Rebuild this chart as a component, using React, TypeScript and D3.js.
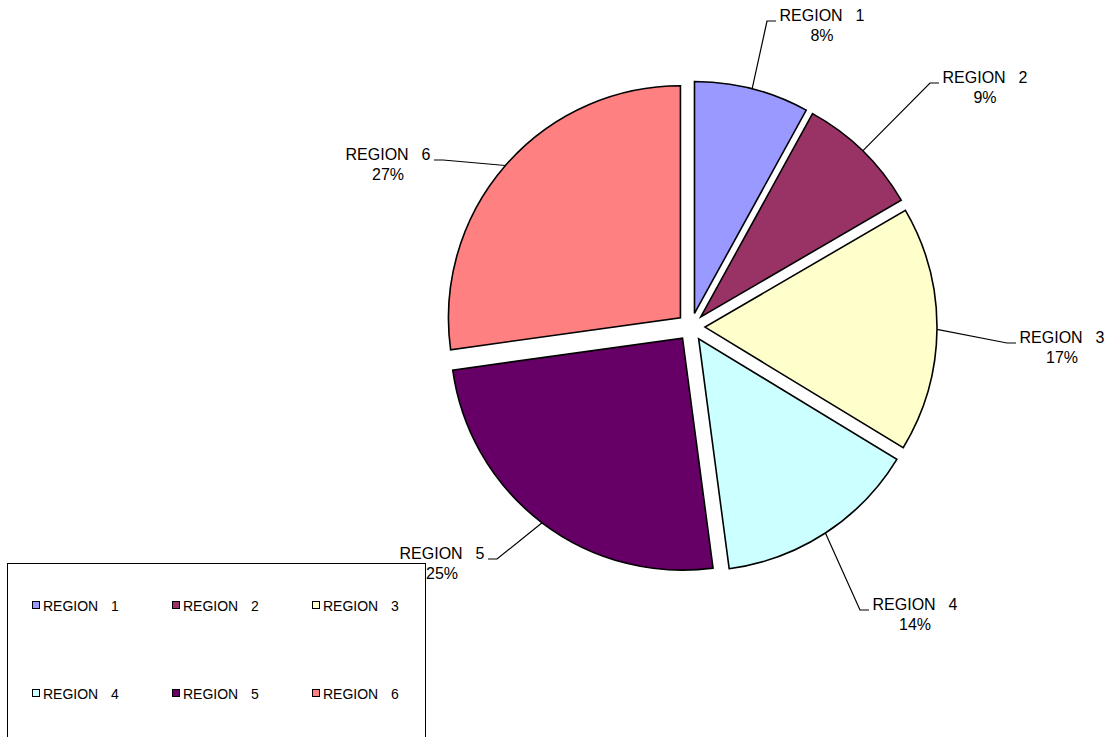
import React from "react";
import * as d3 from "d3";

const categories = ["REGION 1", "REGION 2", "REGION 3", "REGION 4", "REGION 5", "REGION 6"];
const values = [8.0, 8.6, 17.1, 14.2, 24.9, 27.2];
const colors = ["#9999FF", "#993366", "#FFFFCC", "#CCFFFF", "#660066", "#FF8080"];

// layout: label centre x and first-line baseline y
const labelLayout = [
  { x: 822, y: 21 },
  { x: 985, y: 83 },
  { x: 1062, y: 343 },
  { x: 915, y: 610 },
  { x: 442, y: 559 },
  { x: 388, y: 160 },
];

const W = 1112;
const H = 737;
const cx = 691;
const cy = 327;
const R = 232;
const explode = 14;
const FONT = "'Liberation Sans', Arial, sans-serif";

export default function App() {
  const total = d3.sum(values);
  const pie = d3.pie<number>().sort(null).value((d) => d);
  const arcs = pie(values);
  const arcGen = d3.arc<d3.PieArcDatum<number>>().innerRadius(0).outerRadius(R);
  const fmt = d3.format(".0%");
  const halfW = 44;

  const legendCols = [32, 172, 312];
  const legendRows = [611, 699];

  return (
    <svg
      width={W}
      height={H}
      style={{ position: "absolute", left: 0, top: 0, background: "#fff" }}
      fontFamily={FONT}
    >
      {arcs.map((a, i) => {
        const mid = (a.startAngle + a.endAngle) / 2;
        const dx = explode * Math.sin(mid);
        const dy = -explode * Math.cos(mid);
        return (
          <path
            key={"s" + i}
            d={arcGen(a) || ""}
            transform={`translate(${cx + dx},${cy + dy})`}
            fill={colors[i]}
            stroke="#000"
            strokeWidth={1.6}
            strokeLinejoin="miter"
          />
        );
      })}
      {arcs.map((a, i) => {
        const mid = (a.startAngle + a.endAngle) / 2;
        const ox = cx + explode * Math.sin(mid);
        const oy = cy - explode * Math.cos(mid);
        const px = ox + R * Math.sin(mid);
        const py = oy - R * Math.cos(mid);
        const L = labelLayout[i];
        const right = L.x > cx;
        const endX = right ? L.x - halfW - 2 : L.x + halfW + 2;
        const elbowX = right ? endX - 9 : endX + 9;
        const ly = L.y;
        return (
          <g key={"l" + i}>
            <polyline
              points={`${px},${py} ${elbowX},${ly} ${endX},${ly}`}
              fill="none"
              stroke="#000"
              strokeWidth={1.2}
            />
            <text x={L.x} y={L.y} textAnchor="middle" fontSize={16} wordSpacing={8.5} fill="#000">
              {categories[i]}
            </text>
            <text x={L.x} y={L.y + 20} textAnchor="middle" fontSize={16} fill="#000">
              {fmt(values[i] / total)}
            </text>
          </g>
        );
      })}
      <rect x={7.5} y={563.5} width={418} height={200} fill="#fff" stroke="#000" strokeWidth={1} />
      {categories.map((c, i) => {
        const col = i % 3;
        const row = Math.floor(i / 3);
        const x = legendCols[col];
        const y = legendRows[row];
        return (
          <g key={"g" + i}>
            <rect x={x + 0.5} y={y - 9.5} width={7} height={7} fill={colors[i]} stroke="#000" strokeWidth={1} />
            <text x={x + 11} y={y} fontSize={14} wordSpacing={9} fill="#000">
              {c}
            </text>
          </g>
        );
      })}
    </svg>
  );
}
